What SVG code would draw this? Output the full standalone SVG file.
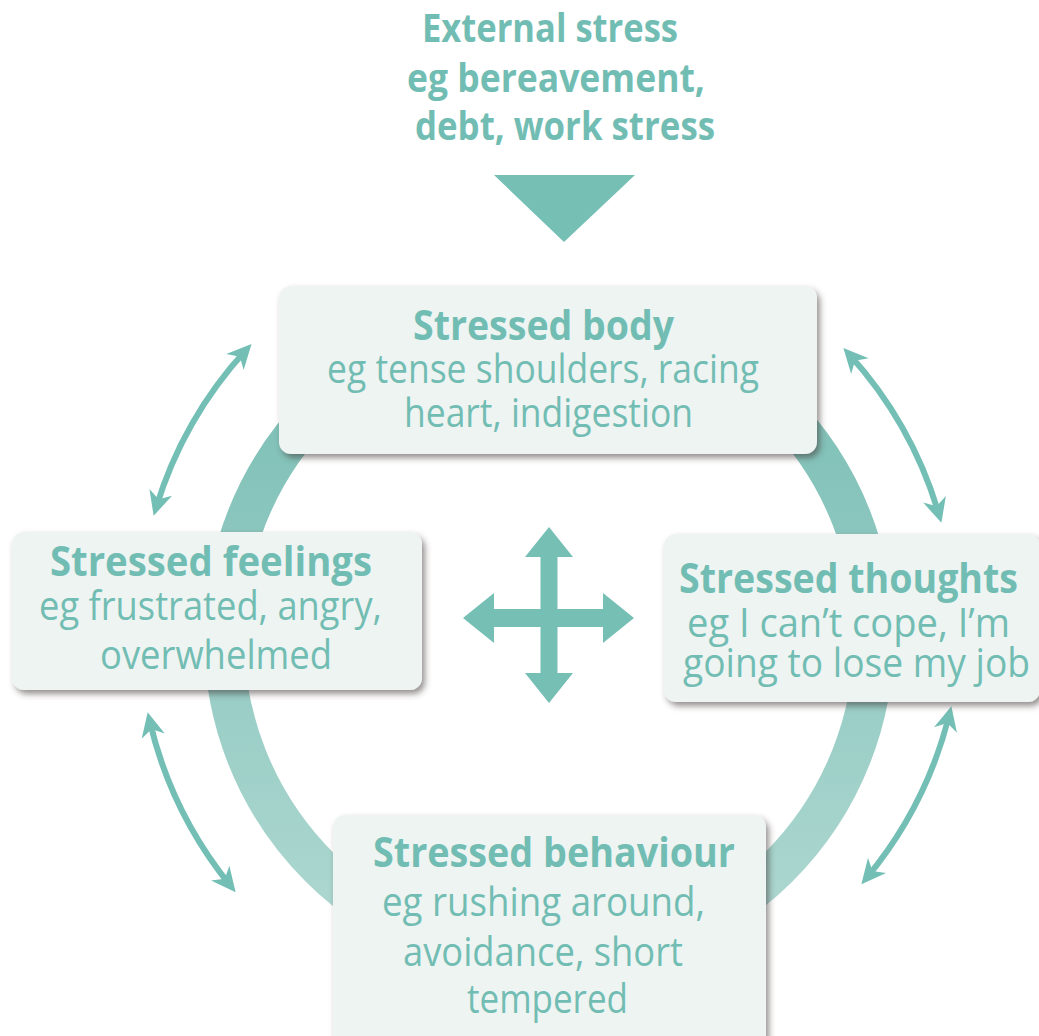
<svg xmlns="http://www.w3.org/2000/svg" width="1039" height="1036" viewBox="0 0 1039 1036">
  <defs>
    <style>
      .t { font-family: "Open Sans", "Liberation Sans", sans-serif; fill: #72bdb3; }
      .h { font-weight: bold; font-size: 42px; }
      .r { font-size: 40px; }
      .title { font-weight: bold; font-size: 40px; }
      .box { fill: #eef4f2; filter: url(#shadow); }
      .conn { fill: none; stroke: #74bfb5; stroke-width: 6; }
    </style>
    <filter id="shadow" x="-10%" y="-10%" width="125%" height="130%">
      <feDropShadow dx="3" dy="4" stdDeviation="3" flood-color="#3d3536" flood-opacity="0.55"/>
    </filter>
    <linearGradient id="ringGrad" gradientUnits="userSpaceOnUse" x1="0" y1="292" x2="0" y2="982">
      <stop offset="0" stop-color="#76bcb2"/>
      <stop offset="1" stop-color="#b2dad3"/>
    </linearGradient>
    <marker id="ah" markerUnits="userSpaceOnUse" markerWidth="40" markerHeight="40" viewBox="-30 -20 44 40" refX="0" refY="0" orient="auto-start-reverse">
      <path d="M9,0 L-18,-13 L-10,0 L-18,13 Z" fill="#74bfb5"/>
    </marker>
  </defs>

  <!-- ring -->
  <circle cx="549" cy="637" r="325" fill="none" stroke="url(#ringGrad)" stroke-width="40"/>

  <!-- external stress -->
  <g id="external">
    <text class="t title" x="422" y="42" textLength="256" lengthAdjust="spacingAndGlyphs">External stress</text>
    <text class="t title" x="407" y="92" textLength="298" lengthAdjust="spacingAndGlyphs">eg bereavement,</text>
    <text class="t title" x="415" y="140" textLength="300" lengthAdjust="spacingAndGlyphs">debt, work stress</text>
    <polygon points="494,175 635,175 564,242" fill="#76bfb5"/>
  </g>

  <!-- connectors -->
  <g id="connectors">
    <path class="conn" d="M246,350 A410,410 0 0 0 156,508" marker-start="url(#ah)" marker-end="url(#ah)"/>
    <path class="conn" d="M848.9,354 A410,410 0 0 1 939.1,515" marker-start="url(#ah)" marker-end="url(#ah)"/>
    <path class="conn" d="M149.5,720.2 A410,410 0 0 0 230.5,885.8" marker-start="url(#ah)" marker-end="url(#ah)"/>
    <path class="conn" d="M949.4,714.1 A410,410 0 0 1 866.6,877.9" marker-start="url(#ah)" marker-end="url(#ah)"/>
    <polygon id="cross" fill="#76bfb5" points="549,527 573,557 557.5,557 557.5,609 603,609 603,593 634,618 603,643 603,627 557.5,627 557.5,673 573,673 549,703 525,673 540.5,673 540.5,627 494,627 494,643 463,618 494,593 494,609 540.5,609 540.5,557 525,557"/>
  </g>

  <g id="body">
    <rect class="box" x="279" y="286" width="538" height="168" rx="12"/>
    <text class="t h" x="413" y="340" textLength="261" lengthAdjust="spacingAndGlyphs">Stressed body</text>
    <text class="t r" x="327" y="383" textLength="432" lengthAdjust="spacingAndGlyphs">eg tense shoulders, racing</text>
    <text class="t r" x="404" y="427" textLength="289" lengthAdjust="spacingAndGlyphs">heart, indigestion</text>
  </g>

  <g id="feelings">
    <rect class="box" x="12" y="532" width="410" height="158" rx="12"/>
    <text class="t h" x="50" y="576" textLength="322" lengthAdjust="spacingAndGlyphs">Stressed feelings</text>
    <text class="t r" x="39" y="620" textLength="343" lengthAdjust="spacingAndGlyphs">eg frustrated, angry,</text>
    <text class="t r" x="100" y="669" textLength="232" lengthAdjust="spacingAndGlyphs">overwhelmed</text>
  </g>

  <g id="thoughts">
    <rect class="box" x="664" y="534" width="376" height="168" rx="12"/>
    <text class="t h" x="679" y="593" textLength="339" lengthAdjust="spacingAndGlyphs">Stressed thoughts</text>
    <text class="t r" x="687" y="637" textLength="323" lengthAdjust="spacingAndGlyphs">eg I can’t cope, I’m</text>
    <text class="t r" x="683" y="677" textLength="347" lengthAdjust="spacingAndGlyphs">going to lose my job</text>
  </g>

  <g id="behaviour">
    <rect class="box" x="333" y="815" width="433" height="240" rx="12"/>
    <text class="t h" x="373" y="867" textLength="362" lengthAdjust="spacingAndGlyphs">Stressed behaviour</text>
    <text class="t r" x="382" y="916" textLength="323" lengthAdjust="spacingAndGlyphs">eg rushing around,</text>
    <text class="t r" x="403" y="966" textLength="280" lengthAdjust="spacingAndGlyphs">avoidance, short</text>
    <text class="t r" x="467" y="1013" textLength="161" lengthAdjust="spacingAndGlyphs">tempered</text>
  </g>
</svg>
